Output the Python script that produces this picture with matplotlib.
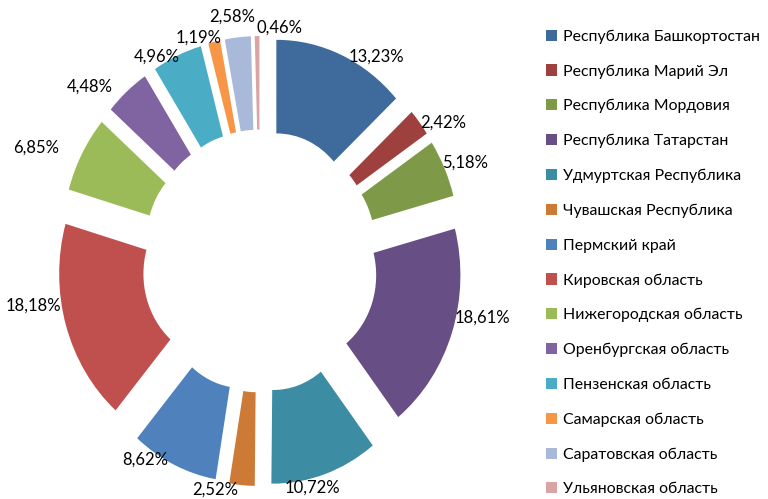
import matplotlib.pyplot as plt
import numpy as np

regions = ['Республика Башкортостан', 'Республика Марий Эл', 'Республика Мордовия',
           'Республика Татарстан', 'Удмуртская Республика', 'Чувашская Республика',
           'Пермский край', 'Кировская область', 'Нижегородская область',
           'Оренбургская область', 'Пензенская область', 'Самарская область',
           'Саратовская область', 'Ульяновская область']
shares = [13.23, 2.42, 5.18, 18.61, 10.72, 2.52, 8.62, 18.18, 6.85, 4.48, 4.96, 1.19, 2.58, 0.46]
colors = ['#3F6A9C', '#9E413E', '#7E9A48', '#674F86', '#3C8DA3', '#CC7A36', '#4F81BD',
          '#C0504D', '#9BBB59', '#8064A2', '#4BACC6', '#F79646', '#A9B9DA', '#D8A5A4']

# label placement: angle shift from segment middle (deg, clockwise) and radius
lab_shift = [8.4, 3.8, 1.1, -5.5, 4.2, 7.2, 7.5, 6.6, -3.9, -6.3, -5.1, -3.9, -1.0, 6.2]
lab_r = [1.345, 1.37, 1.38, 1.41, 1.30, 1.30, 1.31, 1.42, 1.52, 1.43, 1.30, 1.295, 1.37, 1.30]

plt.rcParams['font.family'] = ['Lato', 'DejaVu Sans']

W, H = 768, 499
fig = plt.figure(figsize=(W / 100, H / 100), dpi=100)

# donut centre at (260, 261) px, x scale 162 px/unit, y scale 180 px/unit
cx, cy, sx, sy = 260, 261, 162, 180
a, b = 1.55, 1.3
ax = fig.add_axes([(cx - a * sx) / W, (H - cy - b * sy) / H, 2 * a * sx / W, 2 * b * sy / H])

explode = [0.25] * len(shares)
wedges, _ = ax.pie(shares, colors=colors, startangle=90, counterclock=False,
                   explode=explode, radius=1.0,
                   wedgeprops=dict(width=0.52, linewidth=0))
ax.set_aspect('auto')
ax.set_xlim(-a, a)
ax.set_ylim(-b, b)
ax.axis('off')

# percentage labels just outside each segment
cum = np.cumsum(shares) - np.array(shares) / 2
for val, c, d, r in zip(shares, cum, lab_shift, lab_r):
    ang = np.deg2rad(90 - (c / 100 * 360 + d))
    ax.text(r * np.cos(ang), r * np.sin(ang), f'{val:.2f}%'.replace('.', ','),
            ha='center', va='center', fontsize=12, clip_on=False)

leg = fig.legend(wedges, regions, loc='upper left', bbox_to_anchor=(540 / W, 1 - 23 / H),
                 frameon=False, fontsize=11.4, handlelength=0.7, handleheight=0.7,
                 handletextpad=0.35, labelspacing=1.3, borderaxespad=0)

fig.savefig('out.png', dpi=100)
